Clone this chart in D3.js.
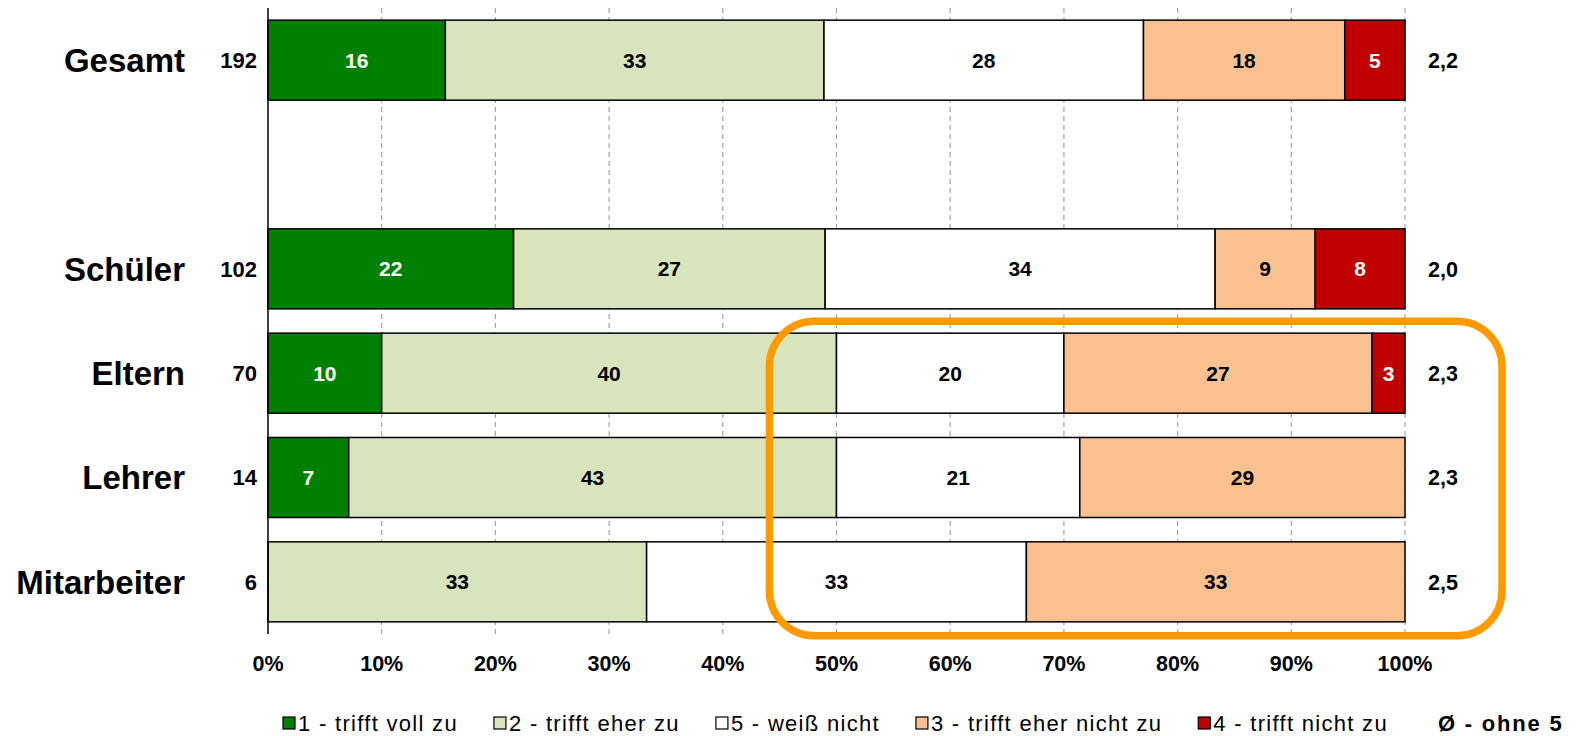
<!DOCTYPE html>
<html>
<head>
<meta charset="utf-8">
<script src="https://cdn.jsdelivr.net/npm/d3@7"></script>
<style>
  body { margin: 0; background: #fff; }
  text { font-family: "Liberation Sans", Arial, sans-serif; }
</style>
</head>
<body>
<div id="chart"></div>
<script>
// categories (the empty slot keeps the gap below "Gesamt")
const groups = ['Gesamt', '', 'Schüler', 'Eltern', 'Lehrer', 'Mitarbeiter'];
const counts = [192, null, 102, 70, 14, 6];
const means = [2.2, null, 2.0, 2.3, 2.3, 2.5];

// answer categories in stacking order
const answers = ['1 - trifft voll zu', '2 - trifft eher zu', '5 - weiß nicht', '3 - trifft eher nicht zu', '4 - trifft nicht zu'];
const answerColors = ['#008000', '#D8E4BC', '#FFFFFF', '#FAC090', '#C00000'];
const labelColors = ['#fff', '#000', '#000', '#000', '#fff'];

// percent shares per group, one array per answer
const share1 = [15.6, 0, 21.6, 10.0, 7.1, 0];
const share2 = [33.3, 0, 27.4, 40.0, 42.9, 33.3];
const share5 = [28.1, 0, 34.3, 20.0, 21.4, 33.4];
const share3 = [17.7, 0, 8.8, 27.1, 28.6, 33.3];
const share4 = [5.3, 0, 7.9, 2.9, 0, 0];

const xTicks = [0, 10, 20, 30, 40, 50, 60, 70, 80, 90, 100];

const width = 1580, height = 736;
const margin = {left: 268, right: 175, top: 8, bottom: 102};

const rows = groups.map((g, i) => ({
  group: g, n: counts[i], mean: means[i],
  a0: share1[i], a1: share2[i], a2: share5[i], a3: share3[i], a4: share4[i]
}));
const keys = ['a0', 'a1', 'a2', 'a3', 'a4'];

const svg = d3.select('#chart')
  .append('svg')
  .attr('width', width)
  .attr('height', height);

const x = d3.scaleLinear()
  .domain([0, 100])
  .range([margin.left, width - margin.right]);

const y = d3.scaleBand()
  .domain(groups)
  .range([margin.top, height - margin.bottom])
  .paddingInner(0.233)
  .paddingOuter(0.1165);

const gridBottom = height - margin.bottom;
const mid = d => y(d.group) + y.bandwidth() / 2;

// dashed gridlines
svg.append('g')
  .selectAll('line')
  .data(xTicks.slice(1))
  .enter()
  .append('line')
  .attr('x1', d => x(d)).attr('x2', d => x(d))
  .attr('y1', margin.top).attr('y2', gridBottom)
  .attr('stroke', '#a6a6a6')
  .attr('stroke-width', 1.2)
  .attr('stroke-dasharray', '5,4');

// stacked bars
const series = d3.stack().keys(keys)(rows.filter(r => r.group !== ''));

const gSeries = svg.append('g')
  .selectAll('g')
  .data(series)
  .enter()
  .append('g')
  .attr('fill', (d, i) => answerColors[i]);

gSeries.selectAll('rect')
  .data(d => d.filter(s => s[1] - s[0] > 0))
  .enter()
  .append('rect')
  .attr('x', d => x(d[0]))
  .attr('y', d => y(d.data.group))
  .attr('width', d => x(d[1]) - x(d[0]))
  .attr('height', y.bandwidth())
  .attr('stroke', '#000')
  .attr('stroke-width', 1.5);

gSeries.each(function(s, i) {
  d3.select(this).selectAll('text')
    .data(s.filter(d => d[1] - d[0] > 0))
    .enter()
    .append('text')
    .attr('x', d => (x(d[0]) + x(d[1])) / 2)
    .attr('y', d => y(d.data.group) + y.bandwidth() / 2)
    .attr('dy', '0.36em')
    .attr('text-anchor', 'middle')
    .attr('fill', labelColors[i])
    .style('font-size', '21px')
    .style('font-weight', 'bold')
    .text(d => Math.round(d[1] - d[0]));
});

// left axis line
svg.append('line')
  .attr('x1', x(0)).attr('x2', x(0))
  .attr('y1', margin.top).attr('y2', gridBottom)
  .attr('stroke', '#000')
  .attr('stroke-width', 1.5);

// x tick labels
svg.append('g')
  .selectAll('text')
  .data(xTicks)
  .enter()
  .append('text')
  .attr('x', d => x(d))
  .attr('y', 663)
  .attr('dy', '0.36em')
  .attr('text-anchor', 'middle')
  .style('font-size', '21.5px')
  .style('font-weight', 'bold')
  .text(d => d + '%');

const labelled = rows.filter(r => r.group !== '');

// group names
svg.append('g')
  .selectAll('text')
  .data(labelled)
  .enter()
  .append('text')
  .attr('x', 185)
  .attr('y', mid)
  .attr('dy', '0.36em')
  .attr('text-anchor', 'end')
  .style('font-size', '33px')
  .style('font-weight', 'bold')
  .text(d => d.group);

// n per group
svg.append('g')
  .selectAll('text')
  .data(labelled)
  .enter()
  .append('text')
  .attr('x', 257)
  .attr('y', mid)
  .attr('dy', '0.36em')
  .attr('text-anchor', 'end')
  .style('font-size', '22px')
  .style('font-weight', 'bold')
  .text(d => d.n);

// means (without 5)
svg.append('g')
  .selectAll('text')
  .data(labelled)
  .enter()
  .append('text')
  .attr('x', x(100) + 23)
  .attr('y', mid)
  .attr('dy', '0.36em')
  .style('font-size', '21.5px')
  .style('font-weight', 'bold')
  .text(d => d.mean.toFixed(1).replace('.', ','));

// orange highlight around the lower right part
const boxTop = y('Eltern') - 12;
const boxBottom = y('Mitarbeiter') + y.bandwidth() + 14;
svg.append('rect')
  .attr('x', x(44.1))
  .attr('y', boxTop)
  .attr('width', 1502 - x(44.1))
  .attr('height', boxBottom - boxTop)
  .attr('rx', 45)
  .attr('fill', 'none')
  .attr('stroke', '#FF9900')
  .attr('stroke-width', 7.5);

// legend
const legend = svg.append('g').attr('transform', 'translate(283, 723)');
let lx = 0;
answers.forEach(function(a, i) {
  legend.append('rect')
    .attr('x', lx)
    .attr('y', -6)
    .attr('width', 12)
    .attr('height', 12)
    .attr('fill', answerColors[i])
    .attr('stroke', '#000')
    .attr('stroke-width', 1.2);
  const t = legend.append('text')
    .attr('x', lx + 15)
    .attr('y', 0)
    .attr('dy', '0.36em')
    .style('font-size', '22px')
    .style('letter-spacing', '1.3px')
    .text(a);
  lx += 15 + t.node().getComputedTextLength() + 36;
});

svg.append('text')
  .attr('x', 1438)
  .attr('y', 723)
  .attr('dy', '0.36em')
  .style('font-size', '22px')
  .style('font-weight', 'bold')
  .style('letter-spacing', '1.8px')
  .text('Ø - ohne 5');
</script>
</body>
</html>
